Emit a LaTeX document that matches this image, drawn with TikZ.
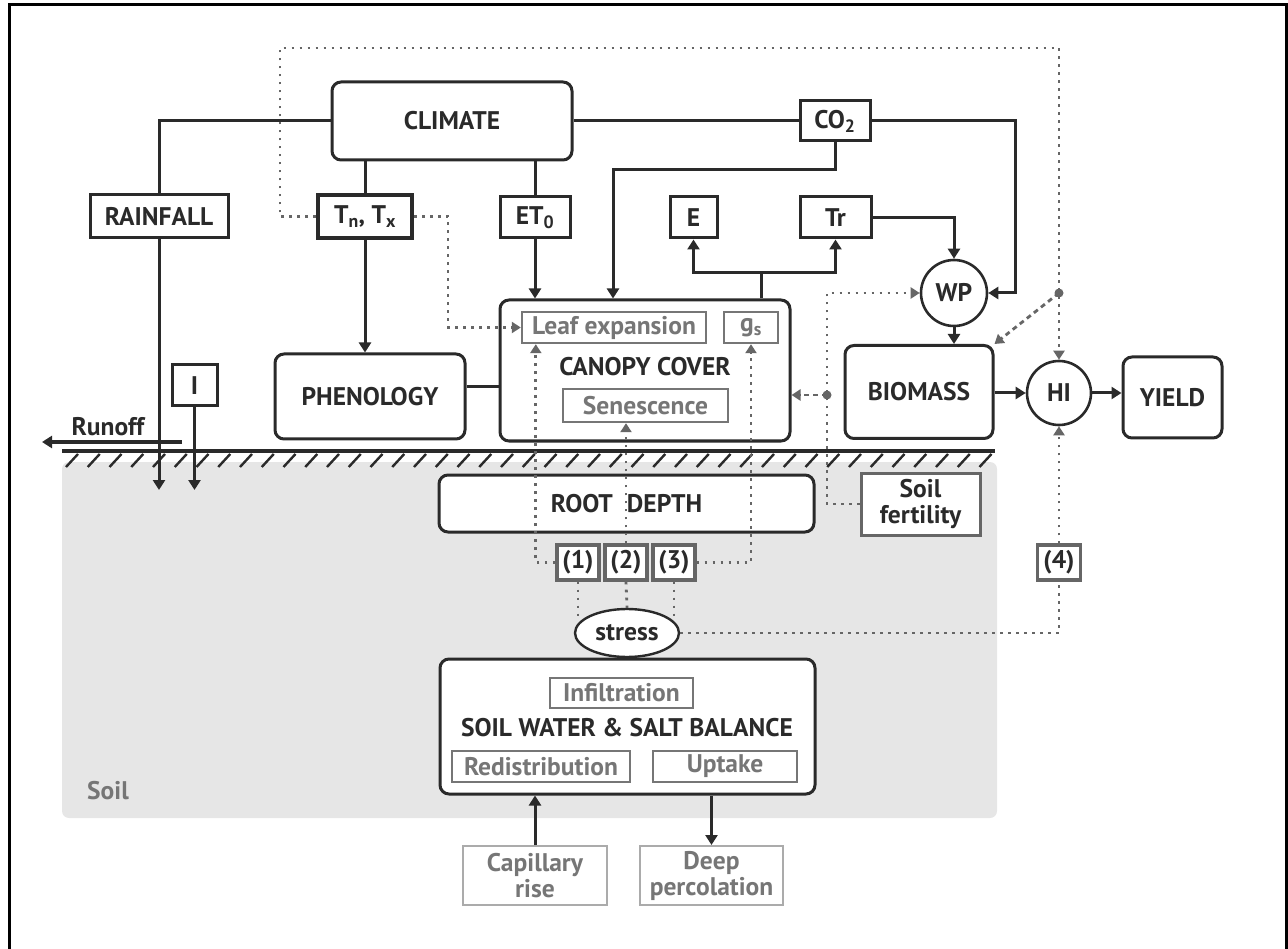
\documentclass[tikz,border=0pt]{standalone}
\usepackage{fontspec}
\setmainfont{PT Sans}
\usetikzlibrary{arrows.meta,shapes.geometric}
\definecolor{ink}{HTML}{2A2A2A}
\definecolor{sub}{HTML}{767676}
\definecolor{dotc}{HTML}{666666}
\definecolor{soilc}{HTML}{E6E6E6}
\definecolor{pale}{HTML}{ABABAB}
\begin{document}
\begin{tikzpicture}[x=1pt,y=-1pt,
  font=\fontsize{25.5}{26}\selectfont\bfseries,
  box/.style={draw=ink, line width=3pt, fill=white, inner sep=0pt, text=ink, align=center},
  rbox/.style={box, rounded corners=9pt},
  subbox/.style={draw=sub, line width=2.4pt, fill=white, inner sep=0pt, text=sub, align=center},
  numbox/.style={draw=dotc, line width=3.2pt, fill=white, inner sep=0pt, text=ink,
    minimum width=42pt, minimum height=35pt},
  palebox/.style={draw=pale, line width=2pt, fill=white, inner sep=0pt, text=sub, align=center},
  rnd/.style={circle, draw=ink, line width=2.6pt, fill=white, inner sep=0pt, text=ink, minimum size=#1},
  conn/.style={draw=ink, line width=3pt},
  tri/.style={-{Triangle[length=10pt,width=12pt]}},
  gtri/.style={-{Triangle[length=9pt,width=11pt]}},
  dots/.style={draw=dotc, line width=2.8pt, dash pattern=on 2.8pt off 5.2pt},
  dashes/.style={draw=dotc, line width=2.8pt, dash pattern=on 5pt off 4pt},
  lbl/.style={inner sep=0pt, text=ink}
]
\useasboundingbox (0,0) rectangle (1288,949);

% frame
\draw[black, line width=3pt] (9,949) -- (9,5) -- (1286,5) -- (1286,949);

% soil region, ground line and hatching
\fill[soilc, rounded corners=7pt] (62,462) rectangle (997,818);
\node[lbl, text=sub] (soil) at (108,791) {Soil};
\draw[ink, line width=3.2pt] (62,451) -- (995,451);
\foreach \i in {0,...,42}
  \draw[ink, line width=2.4pt] ({66+\i*21.75},467) -- ++(12,-13);

% atmosphere and crop nodes
\node[rbox, minimum width=240pt, minimum height=78pt] (climate) at (452,121) {CLIMATE};
\node[box, minimum width=138pt, minimum height=43pt] (rainfall) at (159,216.5) {RAINFALL};
\node[box, line width=4pt, minimum width=94pt, minimum height=43pt] (tnx) at (365,216.5) {T\textsubscript{n}, T\textsubscript{x}};
\node[box, minimum width=70pt, minimum height=41pt] (et0) at (535,217.5) {ET\textsubscript{0}};
\node[box, minimum width=70pt, minimum height=40pt] (co2) at (835,121) {CO\textsubscript{2}};
\node[box, minimum width=47pt, minimum height=41pt] (E) at (693.5,217.5) {E};
\node[box, minimum width=71pt, minimum height=41pt] (Tr) at (835.5,217.5) {Tr};
\node[rnd=66pt] (wp) at (954,293) {WP};
\node[box, minimum width=45pt, minimum height=41pt] (irr) at (194.5,385.5) {I};
\node[rbox, minimum width=190pt, minimum height=85pt] (phen) at (370,396.5) {PHENOLOGY};
\node[rbox, minimum width=290pt, minimum height=141pt] (canopy) at (645,370.5) {};
\node[subbox, minimum width=184pt, minimum height=31pt] (leaf) at (614,327.5) {Leaf expansion};
\node[subbox, minimum width=54pt, minimum height=31pt] (gs) at (751,327.5) {g\textsubscript{s}};
\node[lbl] (cclabel) at (645,367) {CANOPY COVER};
\node[subbox, minimum width=165pt, minimum height=33pt] (sen) at (645.5,405.5) {Senescence};
\node[rbox, minimum width=148pt, minimum height=93pt] (biomass) at (919,392) {BIOMASS};
\node[rnd=64pt] (hi) at (1059,393) {HI};
\node[rbox, minimum width=99pt, minimum height=81pt] (yield) at (1172.5,397.5) {YIELD};
\node[lbl] (runoff) at (108,427) {Runoff};

% soil nodes
\node[rbox, minimum width=375pt, minimum height=57pt] (root) at (626.5,503.5) {ROOT\hspace{14pt}DEPTH};
\node[box, draw=dotc, minimum width=119pt, minimum height=62pt] (fert) at (920.5,504) {Soil\\fertility};
\node[numbox] (b1) at (578,562.5) {(1)};
\node[numbox] (b2) at (626,562.5) {(2)};
\node[numbox] (b3) at (674,562.5) {(3)};
\node[numbox, minimum width=43pt] (b4) at (1059,562.5) {(4)};
\node[ellipse, draw=ink, line width=2.4pt, fill=white, inner sep=0pt, text=ink,
  minimum width=104pt, minimum height=48pt] (stress) at (627,633) {stress};
\node[rbox, minimum width=375pt, minimum height=135pt] (sw) at (627.5,726.5) {};
\node[subbox, minimum width=143pt, minimum height=30pt] (infil) at (621.5,693) {Infiltration};
\node[lbl] (swlabel) at (627,728) {SOIL WATER \& SALT BALANCE};
\node[subbox, minimum width=178pt, minimum height=31pt] (redis) at (541,766.5) {Redistribution};
\node[subbox, minimum width=144pt, minimum height=31pt] (uptake) at (725,766.5) {Uptake};
\node[palebox, minimum width=144pt, minimum height=59pt] (cap) at (535,875.5) {Capillary\\rise};
\node[palebox, minimum width=143pt, minimum height=59pt] (deep) at (711.5,875.5) {Deep\\percolation};

% free ends and bends
\coordinate (rainin) at (159,490);
\coordinate (irrin) at (194.5,490);
\coordinate (roff0) at (182,442);
\coordinate (roff1) at (42,442);
\coordinate (pc) at (0,387);
\coordinate (cokink) at (613,170);
\coordinate (coright) at (1015,293);
\coordinate (ct) at (761,273);
\coordinate (tl) at (280,48);
\coordinate (hidot) at (1059,293);
\coordinate (tr) at (448,327.5);
\coordinate (fl) at (827,293);
\coordinate (fdot) at (827,395);

% solid connectors
\draw[conn] (climate.west) -| (rainfall.north);
\draw[conn] (climate.east) -- (co2.west);
\draw[conn] (climate.south -| tnx.north) -- (tnx.north);
\draw[conn] (climate.south -| et0.north) -- (et0.north);
\draw[conn, tri] (rainfall.south) -- (rainin);
\draw[conn, tri] (irr.south) -- (irrin);
\draw[conn, tri] (roff0) -- (roff1);
\draw[conn, tri] (tnx.south) -- (tnx.south |- phen.north);
\draw[conn] (phen.east |- pc) -- (canopy.west |- pc);
\draw[conn, tri] (et0.south) -- (et0.south |- canopy.north);
\draw[conn, tri] (co2.south) |- (cokink) -- (cokink |- canopy.north);
\draw[conn, tri] (co2.east) -| (coright) -- (wp.east);
\draw[conn] (canopy.north -| ct) -- (ct);
\draw[conn, tri] (ct) -| (E.south);
\draw[conn, tri] (ct) -| (Tr.south);
\draw[conn, tri] (Tr.east) -| (wp.north);
\draw[conn, tri] (wp.south) -- (wp.south |- biomass.north);
\draw[conn, tri] (biomass.east |- hi.west) -- (hi.west);
\draw[conn, tri] (hi.east) -- (hi.east -| yield.west);
\draw[conn, tri] (cap.north) -- (cap.north |- sw.south);
\draw[conn, tri] (sw.south -| deep.north) -- (deep.north);

% dotted stress and temperature links
\draw[dots, gtri] (tnx.west) -| (tl) -| (hidot) -- (hi.north);
\draw[dots, gtri] (tnx.east) -| (tr) -- (leaf.west);
\draw[dashes, gtri] (hidot) -- (biomass.north east);
\draw[dots, gtri] (fert.west) -| (fl) -- (wp.west);
\draw[dashes, gtri] (fdot) -- (fdot -| canopy.east);
\fill[dotc] (hidot) circle (4.5);
\fill[dotc] (fdot) circle (4.5);
\draw[dots, gtri] (b1.west) -| ([xshift=15pt]leaf.south west);
\draw[dots, gtri] (b2.north) -- (b2.north |- sen.south);
\draw[dots, gtri] (b3.east) -| (gs.south);
\draw[dots] (b1.south) -- (b1.south |- stress.160);
\draw[dots] (b2.south) -- (stress.north);
\draw[dots] (b3.south) -- (b3.south |- stress.20);
\draw[dots] (stress.east) -| (b4.south);
\draw[dots, gtri] (b4.north) -- (hi.south);
\end{tikzpicture}
\end{document}
